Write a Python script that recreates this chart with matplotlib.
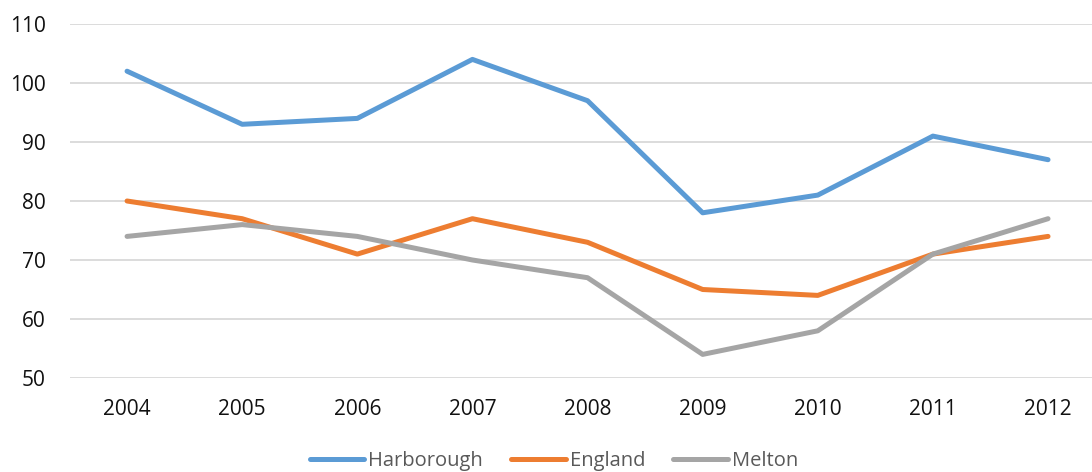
import matplotlib.pyplot as plt

years = ["2004", "2005", "2006", "2007", "2008", "2009", "2010", "2011", "2012"]
harborough = [102, 93, 94, 104, 97, 78, 81, 91, 87]
england = [80, 77, 71, 77, 73, 65, 64, 71, 74]
melton = [74, 76, 74, 70, 67, 54, 58, 71, 77]

plt.rcParams['font.family'] = ['Open Sans', 'DejaVu Sans']

fig = plt.figure(figsize=(10.92, 4.72), dpi=100)
ax = fig.add_axes([69.5 / 1092, 1 - 378 / 472, (1105.6 - 69.5) / 1092, (378 - 24) / 472])

x = range(len(years))
ax.plot(x, harborough, color="#5B9BD5", lw=3.6, solid_capstyle="round", label="Harborough")
ax.plot(x, england, color="#ED7D31", lw=3.6, solid_capstyle="round", label="England")
ax.plot(x, melton, color="#A5A5A5", lw=3.6, solid_capstyle="round", label="Melton")

ax.set_xlim(-0.5, len(years) - 0.5)
ax.set_ylim(50, 110)
ax.set_yticks(range(50, 111, 10))
ax.set_xticks(list(x))
ax.set_xticklabels(years)
ax.yaxis.grid(True, color="#D9D9D9", lw=1.3)
ax.set_axisbelow(True)
for s in ax.spines.values():
    s.set_visible(False)
ax.tick_params(length=0, labelsize=15, colors="#111111")
ax.tick_params(axis="y", pad=17)
ax.tick_params(axis="x", pad=15)

# legend sits at the very bottom edge, under the year labels
fig.legend(loc="center", bbox_to_anchor=(554 / 1092, 1 - 461 / 472), ncol=3, frameon=False,
           fontsize=14.5, handlelength=2.7, handletextpad=0.2, columnspacing=1.4,
           labelcolor="#595959")

fig.savefig("out.png", dpi=100)
